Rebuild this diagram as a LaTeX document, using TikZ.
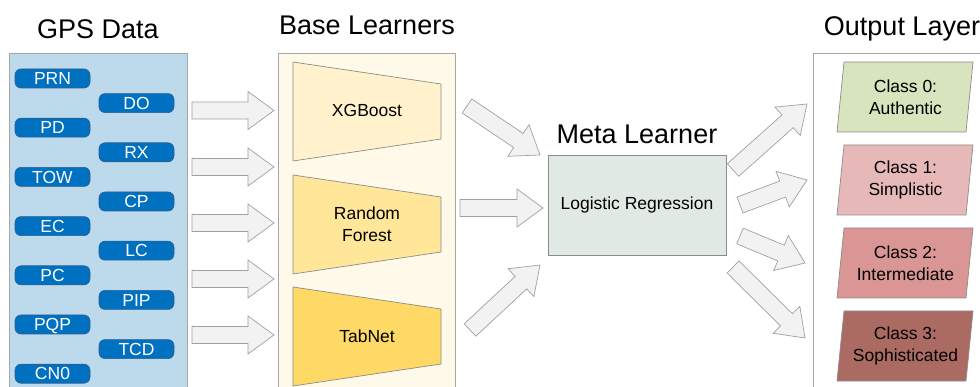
\documentclass[tikz,border=0pt]{standalone}
\usepackage{fontspec}
\setmainfont{Liberation Sans}
\usetikzlibrary{calc}

\definecolor{gpsfill}{HTML}{BDD9EC}
\definecolor{pillfill}{HTML}{0070C0}
\definecolor{pillline}{HTML}{2F5D8C}
\definecolor{basefill}{HTML}{FFF9EA}
\definecolor{xgbfill}{HTML}{FFF2CC}
\definecolor{rffill}{HTML}{FFE699}
\definecolor{tabfill}{HTML}{FFD966}
\definecolor{metafill}{HTML}{E1E9E4}
\definecolor{czerofill}{HTML}{D7E4BD}
\definecolor{conefill}{HTML}{E6B9B8}
\definecolor{ctwofill}{HTML}{D99694}
\definecolor{cthreefill}{HTML}{AB6B63}
\definecolor{arrowfill}{HTML}{F2F2F2}
\definecolor{arrowline}{HTML}{A0A0A0}
\definecolor{edgegray}{HTML}{A6A6A6}
\definecolor{shapegray}{HTML}{8C8C8C}

% wide block arrow from coordinate #1 (tail) to coordinate #2 (tip)
\newcommand{\blockarrow}[2]{%
  \coordinate (ba-h) at ($(#2)!26pt!(#1)$);
  \draw[blockarrowstyle]
    ($(#1)!8.5pt!90:(#2)$) -- ($(ba-h)!8.5pt!90:(#2)$) -- ($(ba-h)!19pt!90:(#2)$) -- (#2)
    -- ($(ba-h)!19pt!-90:(#2)$) -- ($(ba-h)!8.5pt!-90:(#2)$) -- ($(#1)!8.5pt!-90:(#2)$) -- cycle;
}

\tikzset{
  blockarrowstyle/.style={fill=arrowfill, draw=arrowline, line width=0.7pt, line join=miter},
  panel/.style={draw=edgegray, line width=0.8pt, anchor=north west, inner sep=0pt},
  title/.style={font=\fontsize{27}{32}\selectfont, anchor=base, inner sep=0pt},
  body/.style={font=\fontsize{17.5}{21.5}\selectfont, align=center, inner sep=0pt},
  pill/.style={fill=pillfill, draw=pillline, line width=0.6pt, rounded corners=6pt,
    minimum width=75pt, minimum height=19pt, inner sep=0pt, text=white,
    font=\fontsize{17.5}{21}\selectfont, text height=12.5pt, text depth=0pt},
  learner/.style={draw=shapegray, line width=0.7pt},
  classbox/.style={draw=shapegray, line width=0.7pt},
}

\begin{document}
\begin{tikzpicture}[x=1pt, y=-1pt]
\useasboundingbox (0,0) rectangle (980,387);
\clip (0,0) rectangle (980,387);

% ---- titles ----
\node[title] (tgps)  at (98,39)   {GPS Data};
\node[title] (tbase) at (367,35)  {Base Learners};
\node[title] (tmeta) at (637,144) {Meta Learner};
\node[title] (tout)  at (902,36)  {Output Layer};

% ---- panels ----
\node[panel, fill=gpsfill, minimum width=178pt, minimum height=360pt] (gps) at (9,53) {};
\node[panel, fill=basefill, minimum width=177pt, minimum height=360pt] (base) at (278,53) {};
\node[panel, fill=white, minimum width=190pt, minimum height=360pt] (out) at (813,53) {};

% ---- GPS features ----
\node[pill] (prn) at (52.5,78.5)  {PRN};
\node[pill] (do)  at (136.5,103.1) {DO};
\node[pill] (pd)  at (52.5,127.7) {PD};
\node[pill] (rx)  at (136.5,152.3) {RX};
\node[pill] (tow) at (52.5,176.9) {TOW};
\node[pill] (cp)  at (136.5,201.5) {CP};
\node[pill] (ec)  at (52.5,226.1) {EC};
\node[pill] (lc)  at (136.5,250.7) {LC};
\node[pill] (pc)  at (52.5,275.3) {PC};
\node[pill] (pip) at (136.5,299.9) {PIP};
\node[pill] (pqp) at (52.5,324.5) {PQP};
\node[pill] (tcd) at (136.5,349.1) {TCD};
\node[pill] (cn0) at (52.5,373.7) {CN0};

% ---- base learners ----
\draw[learner, fill=xgbfill] (293,62) -- (441,84) -- (441,139) -- (293,161) -- cycle;
\node[body] (xgb) at (367,110.5) {XGBoost};
\draw[learner, fill=rffill] (293,175) -- (441,197) -- (441,252) -- (293,274) -- cycle;
\node[body] (rf) at (367,224) {Random\\Forest};
\draw[learner, fill=tabfill] (293,287) -- (441,309) -- (441,364) -- (293,386) -- cycle;
\node[body] (tab) at (367,336.5) {TabNet};

% ---- meta learner ----
\node[draw=shapegray, line width=0.7pt, fill=metafill, minimum width=178pt, minimum height=100pt,
      anchor=north west, inner sep=0pt] (meta) at (548,155) {};
\node[body] (lr) at (637,205) {Logistic Regression};

% ---- output classes ----
\draw[classbox, fill=czerofill]  (844,62)  -- (973,62)  -- (966,132) -- (837,132) -- cycle;
\node[body] (c0) at (905.5,97)  {Class 0:\\Authentic};
\draw[classbox, fill=conefill]   (844,145) -- (973,145) -- (966,215) -- (837,215) -- cycle;
\node[body] (c1) at (905.5,180) {Class 1:\\Simplistic};
\draw[classbox, fill=ctwofill]   (844,228) -- (973,228) -- (966,298) -- (837,298) -- cycle;
\node[body] (c2) at (905.5,263) {Class 2:\\Intermediate};
\draw[classbox, fill=cthreefill] (844,311) -- (973,311) -- (966,381) -- (837,381) -- cycle;
\node[body] (c3) at (905.5,346) {Class 3:\\Sophisticated};

% ---- arrow end points ----
\foreach \i/\yy in {1/110.5, 2/167, 3/223, 4/279, 5/335} {
  \coordinate (gin\i) at (192,\yy);
  \coordinate (gout\i) at (274,\yy);
}
\coordinate (bm1t) at (467,106);  \coordinate (bm1h) at (540,155);
\coordinate (bm2t) at (460,208);  \coordinate (bm2h) at (543,208);
\coordinate (bm3t) at (470,330);  \coordinate (bm3h) at (540,265);
\coordinate (mo1t) at (733,170);  \coordinate (mo1h) at (807,104);
\coordinate (mo2t) at (740,205);  \coordinate (mo2h) at (807,180);
\coordinate (mo3t) at (740,236);  \coordinate (mo3h) at (805,263);
\coordinate (mo4t) at (733,267);  \coordinate (mo4h) at (805,338);

% ---- arrows ----
\foreach \i in {1,...,5} { \blockarrow{gin\i}{gout\i} }
\blockarrow{bm1t}{bm1h}
\blockarrow{bm2t}{bm2h}
\blockarrow{bm3t}{bm3h}
\blockarrow{mo1t}{mo1h}
\blockarrow{mo2t}{mo2h}
\blockarrow{mo3t}{mo3h}
\blockarrow{mo4t}{mo4h}
\end{tikzpicture}
\end{document}
